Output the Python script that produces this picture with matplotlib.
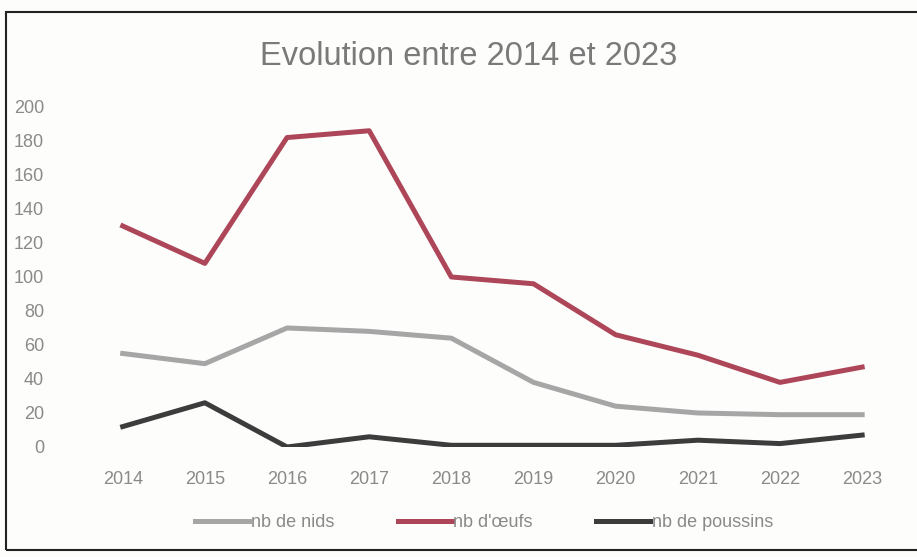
import matplotlib.pyplot as plt
import matplotlib.patches as patches

years = ['2014', '2015', '2016', '2017', '2018', '2019', '2020', '2021', '2022', '2023']
nids = [55, 49, 70, 68, 64, 38, 24, 20, 19, 19]
oeufs = [130, 108, 182, 186, 100, 96, 66, 54, 38, 47]
poussins = [12, 26, 0, 6, 1, 1, 1, 4, 2, 7]
yticks = [0, 20, 40, 60, 80, 100, 120, 140, 160, 180, 200]

plt.rcParams['font.family'] = ['Liberation Sans', 'DejaVu Sans']
txt = '#8a8a8a'

fig = plt.figure(figsize=(9.17, 5.57), dpi=100)
fig.patch.set_facecolor('#fdfdfb')
ax = fig.add_axes([0.089, 0.1975, 0.896, 0.6105])
ax.set_facecolor('#fdfdfb')

x = range(len(years))
ax.plot(x, nids, color='#a6a6a6', lw=3.6, label='nb de nids', solid_joinstyle='round')
ax.plot(x, oeufs, color='#ad4658', lw=3.6, label="nb d'œufs", solid_joinstyle='round')
ax.plot(x, poussins, color='#3c3c3c', lw=3.6, label='nb de poussins', solid_joinstyle='round')

ax.set_xlim(-0.5, len(years) - 0.5)
ax.set_ylim(0, 200)
ax.set_xticks(list(x))
ax.set_xticklabels(years)
ax.set_yticks(yticks)
for s in ax.spines.values():
    s.set_visible(False)
ax.tick_params(axis='both', length=0, colors=txt, labelsize=13)
ax.tick_params(axis='y', pad=27)
ax.tick_params(axis='x', pad=17)

fig.text(0.511, 0.898, 'Evolution entre 2014 et 2023', ha='center', va='center',
         fontsize=23.5, color='#7a7a7a')

fig.legend(loc='center', bbox_to_anchor=(0.528, 0.062), ncol=3, frameon=False,
           fontsize=13, labelcolor=txt, handlelength=3.0, handletextpad=0.1,
           columnspacing=3.5)

fig.patches.append(patches.Rectangle((0.006, 0.013), 1.1, 0.965, transform=fig.transFigure,
                                     fill=False, edgecolor='#222222', lw=1.5))

fig.savefig('out.png', dpi=100, facecolor=fig.get_facecolor())
